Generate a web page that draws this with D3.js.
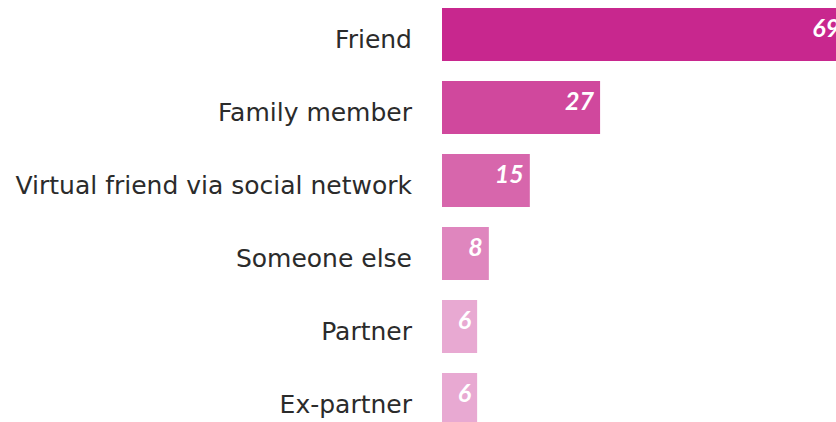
<!DOCTYPE html>
<html lang="en">

<head>
	<meta charset="UTF-8" />
	<title>Bar chart</title>
	<script src="https://cdn.jsdelivr.net/npm/d3@7"></script>
	<style>
		body { margin: 0; background: #fff; }
		svg { display: block; }
	</style>
</head>

<body>
	<svg id="vis" width="836" height="422"></svg>

	<script>
		var categories = ["Friend", "Family member", "Virtual friend via social network", "Someone else", "Partner", "Ex-partner"];
		var values = [69, 27, 15, 8, 6, 6];
		var colors = ["#c8278e", "#d0489d", "#d766ac", "#df86be", "#e8a9d2", "#e8a9d2"];

		var svg = d3.select("#vis");

		// Echelles
		var scaleX = d3.scaleLinear()
			.domain([0, 69])
			.range([442, 846]);

		var scaleY = d3.scaleBand()
			.domain(categories)
			.range([-2, 436])
			.paddingInner(0.274)
			.paddingOuter(0.137);

		// Barres
		svg.append("g")
			.selectAll("rect")
			.data(values)
			.join("rect")
			.attr("x", scaleX(0))
			.attr("y", function (d, i) { return scaleY(categories[i]); })
			.attr("width", function (d) { return scaleX(d) - scaleX(0); })
			.attr("height", scaleY.bandwidth())
			.attr("fill", function (d, i) { return colors[i]; });

		// Valeurs
		svg.append("g")
			.selectAll("text")
			.data(values)
			.join("text")
			.attr("x", function (d) { return scaleX(d) - 6; })
			.attr("y", function (d, i) { return scaleY(categories[i]) + 29; })
			.attr("text-anchor", "end")
			.attr("fill", "#fff")
			.style("font-family", "Lato, 'Open Sans', sans-serif")
			.style("font-weight", "bold")
			.style("font-style", "italic")
			.style("font-size", "25px")
			.text(function (d) { return d; });

		// Libellés
		svg.append("g")
			.selectAll("text")
			.data(categories)
			.join("text")
			.attr("x", 412)
			.attr("y", function (d) { return scaleY(d) + scaleY.bandwidth() / 2 + 13; })
			.attr("text-anchor", "end")
			.attr("fill", "#2b2b2b")
			.style("font-family", "'DejaVu Sans', sans-serif")
			.style("font-size", "25px")
			.text(function (d) { return d; });
	</script>
</body>

</html>
